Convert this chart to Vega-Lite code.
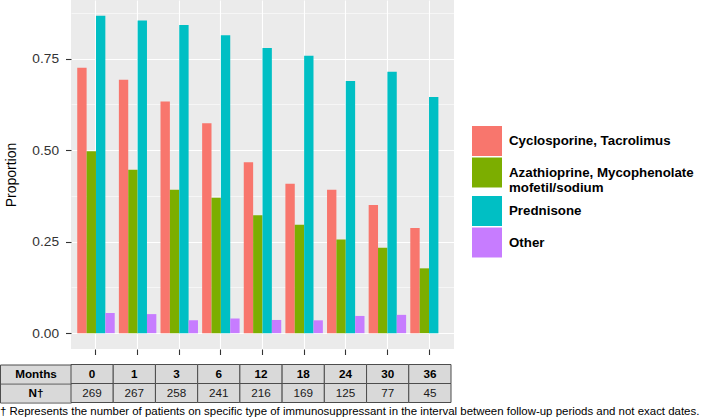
{
  "$schema": "https://vega.github.io/schema/vega-lite/v6.json",
  "padding": {"left": -9, "top": 0, "right": 0, "bottom": 0},
  "autosize": {"type": "pad"},
  "config": {
    "font": "Liberation Sans",
    "view": {"stroke": null}
  },
  "title": {
    "text": "† Represents the number of patients on specific type of immunosuppressant in the interval between follow-up periods and not exact dates.",
    "orient": "bottom",
    "anchor": "start",
    "fontSize": 11.45,
    "fontWeight": "normal",
    "color": "#000000",
    "offset": 3,
    "dx": 9
  },
  "datasets": {
    "bars": [
      {"month": "0", "type": "Cyclosporine, Tacrolimus", "p": 0.725},
      {"month": "0", "type": "Azathioprine, Mycophenolate mofetil/sodium", "p": 0.497},
      {"month": "0", "type": "Prednisone", "p": 0.867},
      {"month": "0", "type": "Other", "p": 0.055},
      {"month": "1", "type": "Cyclosporine, Tacrolimus", "p": 0.692},
      {"month": "1", "type": "Azathioprine, Mycophenolate mofetil/sodium", "p": 0.446},
      {"month": "1", "type": "Prednisone", "p": 0.854},
      {"month": "1", "type": "Other", "p": 0.052},
      {"month": "3", "type": "Cyclosporine, Tacrolimus", "p": 0.633},
      {"month": "3", "type": "Azathioprine, Mycophenolate mofetil/sodium", "p": 0.392},
      {"month": "3", "type": "Prednisone", "p": 0.842},
      {"month": "3", "type": "Other", "p": 0.035},
      {"month": "6", "type": "Cyclosporine, Tacrolimus", "p": 0.573},
      {"month": "6", "type": "Azathioprine, Mycophenolate mofetil/sodium", "p": 0.370},
      {"month": "6", "type": "Prednisone", "p": 0.814},
      {"month": "6", "type": "Other", "p": 0.040},
      {"month": "12", "type": "Cyclosporine, Tacrolimus", "p": 0.467},
      {"month": "12", "type": "Azathioprine, Mycophenolate mofetil/sodium", "p": 0.322},
      {"month": "12", "type": "Prednisone", "p": 0.779},
      {"month": "12", "type": "Other", "p": 0.036},
      {"month": "18", "type": "Cyclosporine, Tacrolimus", "p": 0.408},
      {"month": "18", "type": "Azathioprine, Mycophenolate mofetil/sodium", "p": 0.296},
      {"month": "18", "type": "Prednisone", "p": 0.758},
      {"month": "18", "type": "Other", "p": 0.035},
      {"month": "24", "type": "Cyclosporine, Tacrolimus", "p": 0.392},
      {"month": "24", "type": "Azathioprine, Mycophenolate mofetil/sodium", "p": 0.256},
      {"month": "24", "type": "Prednisone", "p": 0.689},
      {"month": "24", "type": "Other", "p": 0.047},
      {"month": "30", "type": "Cyclosporine, Tacrolimus", "p": 0.350},
      {"month": "30", "type": "Azathioprine, Mycophenolate mofetil/sodium", "p": 0.233},
      {"month": "30", "type": "Prednisone", "p": 0.714},
      {"month": "30", "type": "Other", "p": 0.050},
      {"month": "36", "type": "Cyclosporine, Tacrolimus", "p": 0.287},
      {"month": "36", "type": "Azathioprine, Mycophenolate mofetil/sodium", "p": 0.177},
      {"month": "36", "type": "Prednisone", "p": 0.645}
    ],
    "table": [
      {"row": "Months", "month": "0", "t": "0"},
      {"row": "N", "month": "0", "t": "269"},
      {"row": "Months", "month": "1", "t": "1"},
      {"row": "N", "month": "1", "t": "267"},
      {"row": "Months", "month": "3", "t": "3"},
      {"row": "N", "month": "3", "t": "258"},
      {"row": "Months", "month": "6", "t": "6"},
      {"row": "N", "month": "6", "t": "241"},
      {"row": "Months", "month": "12", "t": "12"},
      {"row": "N", "month": "12", "t": "216"},
      {"row": "Months", "month": "18", "t": "18"},
      {"row": "N", "month": "18", "t": "169"},
      {"row": "Months", "month": "24", "t": "24"},
      {"row": "N", "month": "24", "t": "125"},
      {"row": "Months", "month": "30", "t": "30"},
      {"row": "N", "month": "30", "t": "77"},
      {"row": "Months", "month": "36", "t": "36"},
      {"row": "N", "month": "36", "t": "45"}
    ]
  },
  "spacing": 7.5,
  "vconcat": [
    {
      "width": 383,
      "height": 349,
      "view": {"fill": "#EBEBEB", "stroke": null},
      "data": {"name": "bars"},
      "mark": {"type": "bar"},
      "encoding": {
        "x": {
          "field": "month",
          "type": "nominal",
          "sort": null,
          "scale": {"paddingInner": 0.1, "paddingOuter": 0.15},
          "axis": {
            "title": null,
            "labels": false,
            "domain": false,
            "ticks": true,
            "tickSize": 5.5,
            "tickColor": "#333333",
            "tickWidth": 1.1,
            "grid": true,
            "gridColor": "#FFFFFF",
            "gridWidth": 1.1,
            "bandPosition": 0.5
          }
        },
        "xOffset": {
          "field": "type",
          "type": "nominal",
          "sort": ["Cyclosporine, Tacrolimus", "Azathioprine, Mycophenolate mofetil/sodium", "Prednisone", "Other"],
          "scale": {"paddingInner": 0, "paddingOuter": 0}
        },
        "y": {
          "field": "p",
          "type": "quantitative",
          "scale": {"domain": [-0.0433, 0.91], "nice": false, "zero": false},
          "axis": {
            "title": "Proportion",
            "titleFontSize": 14,
            "titleFontWeight": "normal",
            "titleColor": "#000000",
            "titlePadding": 13,
            "values": [0, 0.125, 0.25, 0.375, 0.5, 0.625, 0.75, 0.875],
            "labelExpr": "datum.value % 0.25 == 0 ? format(datum.value, '.2f') : ''",
            "labelFontSize": 13.7,
            "labelColor": "#333333",
            "labelPadding": 7,
            "domain": false,
            "tickSize": 5.5,
            "tickColor": "#333333",
            "tickWidth": 1.1,
            "tickOpacity": {"condition": {"test": "datum.value % 0.25 != 0", "value": 0}, "value": 1},
            "grid": true,
            "gridColor": "#FFFFFF",
            "gridWidth": {"condition": {"test": "datum.value % 0.25 != 0", "value": 0.55}, "value": 1.1}
          }
        },
        "color": {
          "field": "type",
          "type": "nominal",
          "scale": {
            "domain": ["Cyclosporine, Tacrolimus", "Azathioprine, Mycophenolate mofetil/sodium", "Prednisone", "Other"],
            "range": ["#F8766D", "#7CAE00", "#00BFC4", "#C77CFF"]
          },
          "legend": {
            "title": null,
            "orient": "none",
            "legendX": 401,
            "legendY": 126,
            "padding": 0,
            "symbolType": "square",
            "symbolSize": 900,
            "symbolStrokeWidth": 0,
            "symbolOpacity": 1,
            "rowPadding": 1.5,
            "labelOffset": 7,
            "labelFontSize": 13.3,
            "labelFontWeight": "bold",
            "labelColor": "#000000",
            "labelLimit": 260,
            "labelExpr": "datum.label == 'Azathioprine, Mycophenolate mofetil/sodium' ? ['Azathioprine, Mycophenolate', 'mofetil/sodium'] : datum.label"
          }
        }
      }
    },
    {
      "width": 380,
      "height": 38,
      "data": {"name": "table"},
      "resolve": {"scale": {"y": "independent"}},
      "layer": [
        {
          "mark": {"type": "rect", "fill": "#D9D9D9", "stroke": "#4D4D4D", "strokeWidth": 1},
          "encoding": {
            "x": {"field": "month", "type": "nominal", "sort": null, "scale": {"paddingInner": 0, "paddingOuter": 0}, "axis": null},
            "y": {
              "field": "row", "type": "nominal", "sort": ["Months", "N"],
              "scale": {"domain": ["Months", "N"], "paddingInner": 0, "paddingOuter": 0},
              "axis": {
                "orient": "left",
                "title": null,
                "domain": false,
                "ticks": true,
                "tickSize": 71,
                "tickWidth": 18,
                "tickColor": "#D9D9D9",
                "tickCap": "butt",
                "labelExpr": "datum.value == 'N' ? 'N†' : datum.value",
                "labelAlign": "center",
                "labelBaseline": "middle",
                "labelPadding": -35.5,
                "labelFontSize": 11.7,
                "labelFontWeight": "bold",
                "labelColor": "#000000",
                "zindex": 0
              }
            }
          }
        },
        {
          "mark": {"type": "rect", "opacity": 0},
          "encoding": {
            "x": {"field": "month", "type": "nominal", "sort": null, "axis": null},
            "y": {
              "field": "row", "type": "nominal", "sort": ["Months", "N"],
              "scale": {"domain": ["Months", "N"], "paddingInner": 0, "paddingOuter": 0},
              "axis": {
                "orient": "left",
                "offset": 71,
                "title": null,
                "labels": false,
                "domain": true,
                "domainColor": "#4D4D4D",
                "domainWidth": 1,
                "ticks": true,
                "tickBand": "extent",
                "tickSize": -71,
                "tickColor": "#4D4D4D",
                "tickWidth": 1,
                "zindex": 1
              }
            }
          }
        },
        {
          "transform": [{"filter": "datum.row == 'Months'"}],
          "mark": {"type": "text", "fontWeight": "bold", "fontSize": 11.7, "color": "#000000"},
          "encoding": {
            "x": {"field": "month", "type": "nominal", "sort": null, "axis": null},
            "y": {"field": "row", "type": "nominal", "scale": {"domain": ["Months", "N"], "paddingInner": 0, "paddingOuter": 0}, "axis": null},
            "text": {"field": "t"}
          }
        },
        {
          "transform": [{"filter": "datum.row == 'N'"}],
          "mark": {"type": "text", "fontSize": 11.7, "color": "#1A1A1A"},
          "encoding": {
            "x": {"field": "month", "type": "nominal", "sort": null, "axis": null},
            "y": {"field": "row", "type": "nominal", "scale": {"domain": ["Months", "N"], "paddingInner": 0, "paddingOuter": 0}, "axis": null},
            "text": {"field": "t"}
          }
        }
      ]
    }
  ]
}
